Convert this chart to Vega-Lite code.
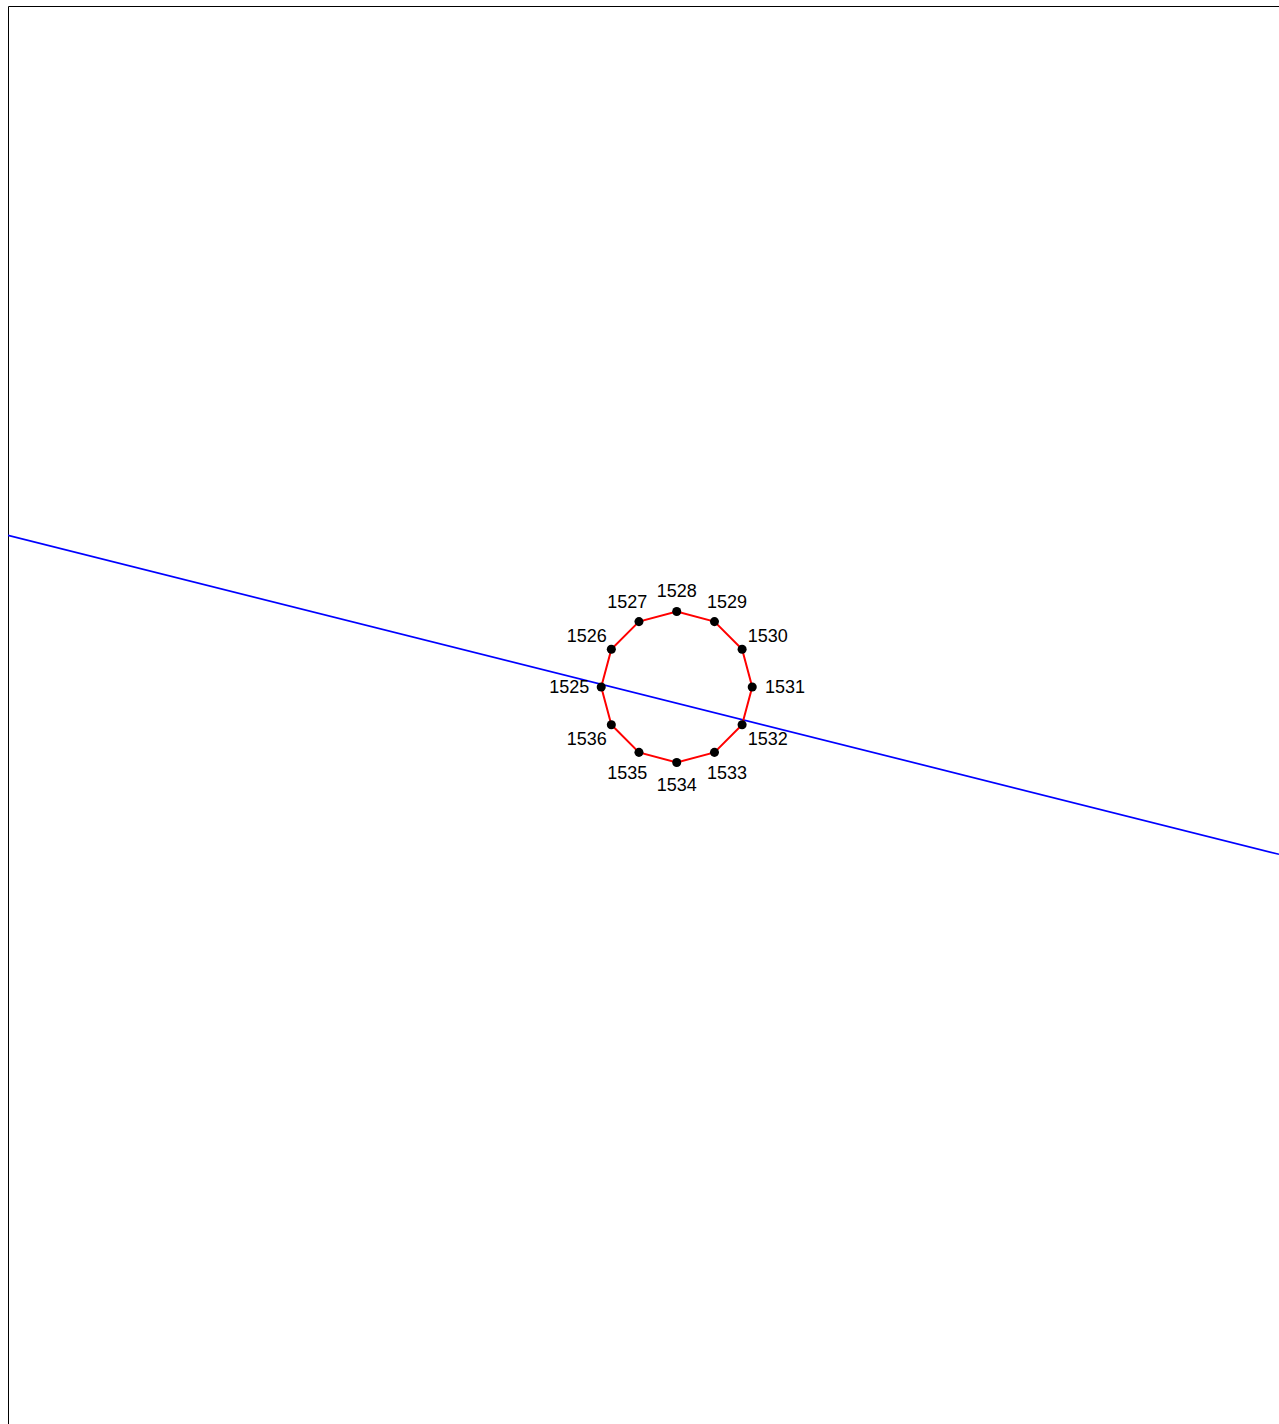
{
  "$schema": "https://vega.github.io/schema/vega-lite/v6.json",
  "autosize": {"type": "none"},
  "padding": {"left": 8, "top": 6, "right": 0, "bottom": 0},
  "width": 1271,
  "height": 1418,
  "background": "white",
  "config": {
    "view": {"stroke": null},
    "axis": {"labels": false, "ticks": false, "grid": false, "title": null, "domain": true, "domainColor": "#000000", "domainWidth": 1}
  },
  "datasets": {
    "pts": [
      {"id": "1525", "x": -1.0, "y": 0.0, "lx": -1.423, "ly": -0.004},
      {"id": "1526", "x": -0.866, "y": 0.5, "lx": -1.192, "ly": 0.679},
      {"id": "1527", "x": -0.5, "y": 0.866, "lx": -0.655, "ly": 1.122},
      {"id": "1528", "x": 0.0, "y": 1.0, "lx": 0.0, "ly": 1.275},
      {"id": "1529", "x": 0.5, "y": 0.866, "lx": 0.665, "ly": 1.122},
      {"id": "1530", "x": 0.866, "y": 0.5, "lx": 1.205, "ly": 0.679},
      {"id": "1531", "x": 1.0, "y": 0.0, "lx": 1.434, "ly": -0.004},
      {"id": "1532", "x": 0.866, "y": -0.5, "lx": 1.205, "ly": -0.693},
      {"id": "1533", "x": 0.5, "y": -0.866, "lx": 0.665, "ly": -1.135},
      {"id": "1534", "x": 0.0, "y": -1.0, "lx": 0.0, "ly": -1.298},
      {"id": "1535", "x": -0.5, "y": -0.866, "lx": -0.655, "ly": -1.135},
      {"id": "1536", "x": -0.866, "y": -0.5, "lx": -1.192, "ly": -0.693}
    ],
    "outline": [
      {"k": 1, "x": -1.0, "y": 0.0},
      {"k": 2, "x": -0.866, "y": 0.5},
      {"k": 3, "x": -0.5, "y": 0.866},
      {"k": 4, "x": 0.0, "y": 1.0},
      {"k": 5, "x": 0.5, "y": 0.866},
      {"k": 6, "x": 0.866, "y": 0.5},
      {"k": 7, "x": 1.0, "y": 0.0},
      {"k": 8, "x": 0.866, "y": -0.5},
      {"k": 9, "x": 0.5, "y": -0.866},
      {"k": 10, "x": 0.0, "y": -1.0},
      {"k": 11, "x": -0.5, "y": -0.866},
      {"k": 12, "x": -0.866, "y": -0.5},
      {"k": 13, "x": -1.0, "y": 0.0}
    ],
    "fit": [
      {"x": -8.857, "y": 2.009},
      {"x": 7.977, "y": -2.216}
    ]
  },
  "layer": [
    {
      "data": {"name": "fit"},
      "mark": {"type": "line", "color": "#0000ff", "strokeWidth": 1.7, "clip": true},
      "encoding": {
        "x": {"field": "x", "type": "quantitative", "scale": {"domain": [-8.857, 7.977], "nice": false, "zero": false}, "axis": {"orient": "top"}},
        "y": {"field": "y", "type": "quantitative", "scale": {"domain": [-9.762, 9.02], "nice": false, "zero": false}, "axis": {"orient": "left"}}
      }
    },
    {
      "data": {"name": "outline"},
      "mark": {"type": "line", "color": "#ff0000", "strokeWidth": 2},
      "encoding": {
        "x": {"field": "x", "type": "quantitative"},
        "y": {"field": "y", "type": "quantitative"},
        "order": {"field": "k", "type": "quantitative"}
      }
    },
    {
      "data": {"name": "pts"},
      "mark": {"type": "circle", "color": "#000000", "opacity": 1, "size": 82},
      "encoding": {
        "x": {"field": "x", "type": "quantitative"},
        "y": {"field": "y", "type": "quantitative"}
      }
    },
    {
      "data": {"name": "pts"},
      "mark": {"type": "text", "font": "Liberation Sans", "fontSize": 18, "color": "#000000", "align": "center", "baseline": "middle", "dy": 1},
      "encoding": {
        "x": {"field": "lx", "type": "quantitative"},
        "y": {"field": "ly", "type": "quantitative"},
        "text": {"field": "id", "type": "nominal"}
      }
    }
  ]
}
